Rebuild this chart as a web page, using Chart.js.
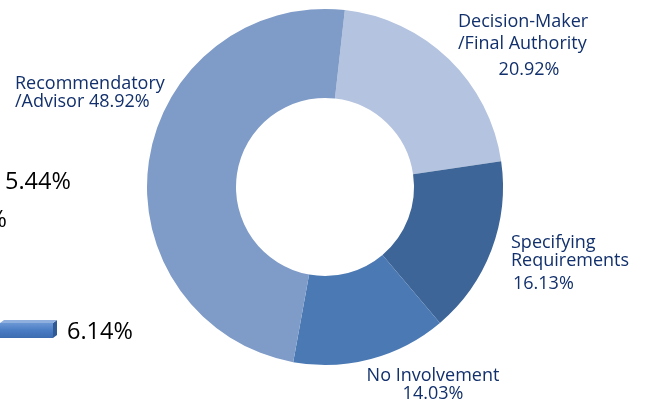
<!DOCTYPE html>
<html>
<head>
<meta charset="utf-8">
<script src="https://cdn.jsdelivr.net/npm/chart.js@4/dist/chart.umd.min.js"></script>
<style>
  html, body { margin: 0; padding: 0; background: #ffffff; }
  #wrap { position: relative; width: 650px; height: 405px; overflow: hidden; }
  canvas { display: block; }
</style>
</head>
<body>
<div id="wrap"><canvas id="c" width="650" height="405"></canvas></div>
<script>
// ---- data ----
const categories = ['Decision-Maker /Final Authority', 'Specifying Requirements', 'No Involvement', 'Recommendatory /Advisor'];
const values = [20.92, 16.13, 14.03, 48.92];
const sliceColors = ['#b4c3df', '#3e6597', '#4a79b4', '#7f9bc8'];
// fragments of a neighbouring chart cut off at the left edge
const fragmentLabels = ['5.44%', '%', '6.14%'];

const labelColor = '#12306c';
const labelFont = '18px "Open Sans", sans-serif';

const labelPlugin = {
  id: 'sliceLabels',
  afterDraw(chart) {
    const ctx = chart.ctx;
    ctx.save();
    ctx.fillStyle = labelColor;
    ctx.font = labelFont;
    ctx.textBaseline = 'alphabetic';
    const pct = v => v.toFixed(2) + '%';
    // Decision-Maker
    ctx.textAlign = 'left';
    ctx.fillText('Decision-Maker', 458, 27);
    ctx.fillText('/Final Authority', 458, 49);
    ctx.textAlign = 'center';
    ctx.fillText(pct(values[0]), 529, 75);
    // Specifying
    ctx.textAlign = 'left';
    ctx.fillText('Specifying', 511, 248);
    ctx.fillText('Requirements', 511, 266);
    ctx.fillText(pct(values[1]), 513, 289);
    // No Involvement
    ctx.textAlign = 'center';
    ctx.fillText('No Involvement', 433, 381);
    ctx.fillText(pct(values[2]), 433, 399);
    // Recommendatory
    ctx.textAlign = 'left';
    ctx.fillText('Recommendatory', 15, 89);
    ctx.fillText('/Advisor ' + pct(values[3]), 15, 107);

    // left fragments
    ctx.fillStyle = '#000000';
    ctx.font = '23.5px "Open Sans", sans-serif';
    ctx.textAlign = 'left';
    ctx.fillText(fragmentLabels[0], 5, 189);
    ctx.textAlign = 'right';
    ctx.fillText(fragmentLabels[1], 7, 227);
    ctx.textAlign = 'left';
    ctx.fillText(fragmentLabels[2], 67, 339);

    // cut-off bar (3D style)
    const g = ctx.createLinearGradient(0, 322, 0, 339);
    g.addColorStop(0, '#6f9ad6');
    g.addColorStop(0.5, '#4a7cc4');
    g.addColorStop(1, '#3a69ae');
    ctx.fillStyle = g;
    ctx.fillRect(0, 323, 53, 15);
    ctx.fillStyle = '#2f5a96';
    ctx.beginPath();
    ctx.moveTo(53, 323); ctx.lineTo(57, 320); ctx.lineTo(57, 335); ctx.lineTo(53, 338); ctx.closePath();
    ctx.fill();
    ctx.fillStyle = '#8fb0de';
    ctx.beginPath();
    ctx.moveTo(0, 323); ctx.lineTo(53, 323); ctx.lineTo(57, 320); ctx.lineTo(4, 320); ctx.closePath();
    ctx.fill();
    ctx.restore();
  }
};

new Chart(document.getElementById('c'), {
  type: 'doughnut',
  data: {
    labels: categories,
    datasets: [{
      data: values,
      backgroundColor: sliceColors,
      borderWidth: 0
    }]
  },
  options: {
    responsive: false,
    animation: false,
    rotation: 6.4,
    cutout: '50%',
    layout: { padding: { top: 9, bottom: 40, left: 0, right: 0 } },
    plugins: { legend: { display: false }, tooltip: { enabled: false } }
  },
  plugins: [labelPlugin]
});
</script>
</body>
</html>
